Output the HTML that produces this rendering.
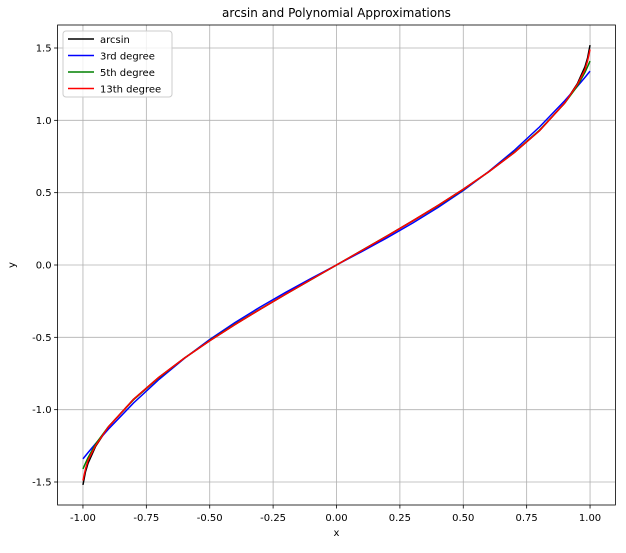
<!DOCTYPE html>
<html><head><meta charset="utf-8"><style>
body{margin:0;background:#fff;}
svg text{font-family:"DejaVu Sans","Liberation Sans",sans-serif;}
</style></head><body>
<svg id="chart" width="626" height="548"></svg>
<script>
const xs = [-1,-0.99,-0.98,-0.95,-0.9,-0.8,-0.7,-0.6,-0.5,-0.4,-0.3,-0.2,-0.1,0,0.1,0.2,0.3,0.4,0.5,0.6,0.7,0.8,0.9,0.95,0.98,0.99,1];
const arcsinY = [-1.52,-1.4293,-1.3705,-1.2532,-1.1198,-0.9273,-0.7754,-0.6435,-0.5236,-0.4115,-0.3047,-0.2014,-0.1002,0,0.1002,0.2014,0.3047,0.4115,0.5236,0.6435,0.7754,0.9273,1.1198,1.2532,1.3705,1.4293,1.52];
const deg3Y = [-1.34,-1.3184,-1.2972,-1.2348,-1.1354,-0.9531,-0.7906,-0.6454,-0.5151,-0.3972,-0.2893,-0.1887,-0.0931,0,0.0931,0.1887,0.2893,0.3972,0.5151,0.6454,0.7906,0.9531,1.1354,1.2348,1.2972,1.3184,1.34];
const deg5Y = [-1.41,-1.37,-1.332,-1.237,-1.119,-0.931,-0.7785,-0.644,-0.5215,-0.409,-0.3035,-0.2015,-0.1006,0,0.1006,0.2015,0.3035,0.409,0.5215,0.644,0.7785,0.931,1.119,1.237,1.332,1.37,1.41];
const deg13Y = [-1.49,-1.41,-1.35,-1.248,-1.1198,-0.9273,-0.7754,-0.6435,-0.5236,-0.4115,-0.3047,-0.2014,-0.1002,0,0.1002,0.2014,0.3047,0.4115,0.5236,0.6435,0.7754,0.9273,1.1198,1.248,1.35,1.41,1.49];
const xTicks = [-1,-0.75,-0.5,-0.25,0,0.25,0.5,0.75,1];
const xTickLabels = ["-1.00","-0.75","-0.50","-0.25","0.00","0.25","0.50","0.75","1.00"];
const yTicks = [-1.5,-1,-0.5,0,0.5,1,1.5];
const yTickLabels = ["-1.5","-1.0","-0.5","0.0","0.5","1.0","1.5"];
const seriesNames = ["arcsin","3rd degree","5th degree","13th degree"];

const L=57.6,R=615.4,T=25,B=505;
const xMin=-1.1,xMax=1.1,yMin=-1.659,yMax=1.659;
const sx=v=>L+(v-xMin)/(xMax-xMin)*(R-L);
const sy=v=>B-(v-yMin)/(yMax-yMin)*(B-T);
const NS="http://www.w3.org/2000/svg";
const svg=document.getElementById('chart');
function mk(tag,attrs,parent){const e=document.createElementNS(NS,tag);for(const k in attrs)e.setAttribute(k,attrs[k]);(parent||svg).appendChild(e);return e;}

xTicks.forEach((t,i)=>{
  const g=mk('line',{x1:sx(t),x2:sx(t),y1:T,y2:B,stroke:'#b0b0b0','stroke-width':0.8});
  
  
  mk('line',{x1:sx(t),x2:sx(t),y1:B,y2:B+3.5,stroke:'#000','stroke-width':0.8});
  const tx=mk('text',{x:sx(t),y:B+16,'text-anchor':'middle','font-size':10});
  tx.textContent=xTickLabels[i];
  
  
});
yTicks.forEach((t,i)=>{
  const g=mk('line',{x1:L,x2:R,y1:sy(t),y2:sy(t),stroke:'#b0b0b0','stroke-width':0.8});
  
  
  mk('line',{x1:L-3.5,x2:L,y1:sy(t),y2:sy(t),stroke:'#000','stroke-width':0.8});
  const tx=mk('text',{x:L-6,y:sy(t)+3.5,'text-anchor':'end','font-size':10});
  tx.textContent=yTickLabels[i];
  
  
});

const colors=['#000000','#0000ff','#008000','#ff0000'];
const data=[arcsinY,deg3Y,deg5Y,deg13Y];
const order=[0,1,2,3];
order.forEach(s=>{
  const d=xs.map((x,i)=>(i?'L':'M')+sx(x).toFixed(2)+','+sy(data[s][i]).toFixed(2)).join('');
  const p=mk('path',{d:d,fill:'none',stroke:colors[s],'stroke-width':1.5,'stroke-linejoin':'round'});
  
  
});

const frame=mk('rect',{x:L,y:T,width:R-L,height:B-T,fill:'none',stroke:'#000','stroke-width':0.8});



const title=mk('text',{x:(L+R)/2,y:T-8,'text-anchor':'middle','font-size':12});
title.textContent='arcsin and Polynomial Approximations';


const xl=mk('text',{x:(L+R)/2,y:B+31,'text-anchor':'middle','font-size':10});
xl.textContent='x';


const yl=mk('text',{x:15,y:(T+B)/2,'text-anchor':'middle','font-size':10,transform:'rotate(-90 15 '+((T+B)/2)+')'});
yl.textContent='y';



const lg=mk('g',{});


mk('rect',{x:63,y:31,width:109,height:66,rx:3,fill:'#fff','fill-opacity':0.8,stroke:'#ccc','stroke-width':1},lg);
seriesNames.forEach((n,i)=>{
  const y=39+i*16.5;
  mk('line',{x1:68,x2:94,y1:y,y2:y,stroke:colors[i],'stroke-width':1.5},lg);
  const t=mk('text',{x:100,y:y+4,'font-size':10},lg);
  t.textContent=n;
  
  
});
</script>
</body></html>
